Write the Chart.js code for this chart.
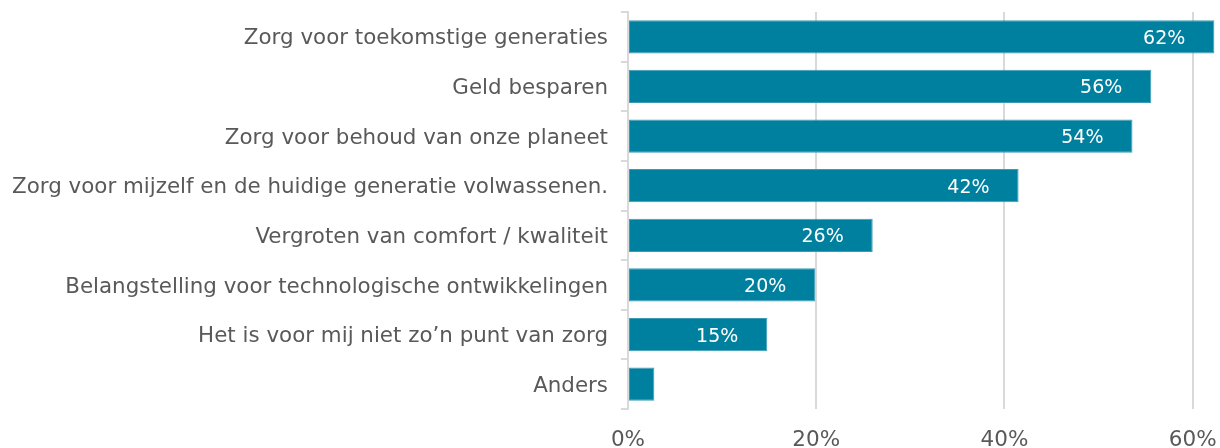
<!DOCTYPE html>
<html>
<head>
<meta charset="utf-8">
<script src="https://cdn.jsdelivr.net/npm/chart.js@4/dist/chart.umd.min.js"></script>
<style>
  html, body { margin: 0; padding: 0; background: #fff; }
  #wrap { width: 1220px; height: 448px; position: relative; }
</style>
</head>
<body>
<div id="wrap"><canvas id="grafiek"></canvas></div>
<script>
const redenen = [
  "Zorg voor toekomstige generaties",
  "Geld besparen",
  "Zorg voor behoud van onze planeet",
  "Zorg voor mijzelf en de huidige generatie volwassenen.",
  "Vergroten van comfort / kwaliteit",
  "Belangstelling voor technologische ontwikkelingen",
  "Het is voor mij niet zo\u2019n punt van zorg",
  "Anders"
];
const percentages = [62.3, 55.6, 53.6, 41.5, 26.0, 19.9, 14.8, 2.8];
const tickWaarden = [0, 20, 40, 60];

const grijs = "#595959";
const lijn = "#d9d9d9";
const lettertype = "'DejaVu Sans', Verdana, sans-serif";

// labels binnen de balk, rechts uitgelijnd bij het einde
const balkLabels = {
  id: "balkLabels",
  afterDatasetsDraw(chart) {
    const ctx = chart.ctx;
    const meta = chart.getDatasetMeta(0);
    ctx.save();
    ctx.font = "19px " + lettertype;
    ctx.fillStyle = "#ffffff";
    ctx.textAlign = "right";
    ctx.textBaseline = "middle";
    meta.data.forEach((bar, i) => {
      const v = percentages[i];
      if (v < 5) return;
      ctx.fillText(Math.round(v) + "%", bar.x - 29, bar.y + 2);
    });
    ctx.restore();
  }
};

new Chart(document.getElementById("grafiek"), {
  type: "bar",
  data: {
    labels: redenen,
    datasets: [{
      data: percentages,
      backgroundColor: "#00809f",
      borderColor: "#3d9ab5",
      borderWidth: 1,
      borderSkipped: false,
      barPercentage: 0.67,
      categoryPercentage: 1
    }]
  },
  options: {
    indexAxis: "y",
    responsive: true,
    maintainAspectRatio: false,
    animation: false,
    layout: { padding: 0 },
    plugins: {
      legend: { display: false },
      tooltip: { enabled: false }
    },
    scales: {
      x: {
        min: 0,
        max: 62.9,
        afterBuildTicks: s => { s.ticks = tickWaarden.map(v => ({ value: v })); },
        afterFit: s => { s.height = 39; s.paddingRight = 0; s.paddingLeft = 0; },
        border: { display: false },
        grid: { color: lijn, lineWidth: 2, drawTicks: false },
        ticks: {
          padding: 19,
          color: grijs,
          font: { family: lettertype, size: 21.5 },
          callback: v => v + "%"
        }
      },
      y: {
        afterFit: s => { s.width = 628; s.paddingTop = 12; s.paddingBottom = 0; },
        border: { display: true, color: lijn, width: 2 },
        grid: {
          offset: true,
          drawOnChartArea: false,
          drawTicks: true,
          tickLength: 7,
          color: lijn,
          lineWidth: 2
        },
        ticks: {
          padding: 13,
          labelOffset: 2,
          color: grijs,
          font: { family: lettertype, size: 21.4 }
        }
      }
    }
  },
  plugins: [balkLabels]
});
</script>
</body>
</html>
